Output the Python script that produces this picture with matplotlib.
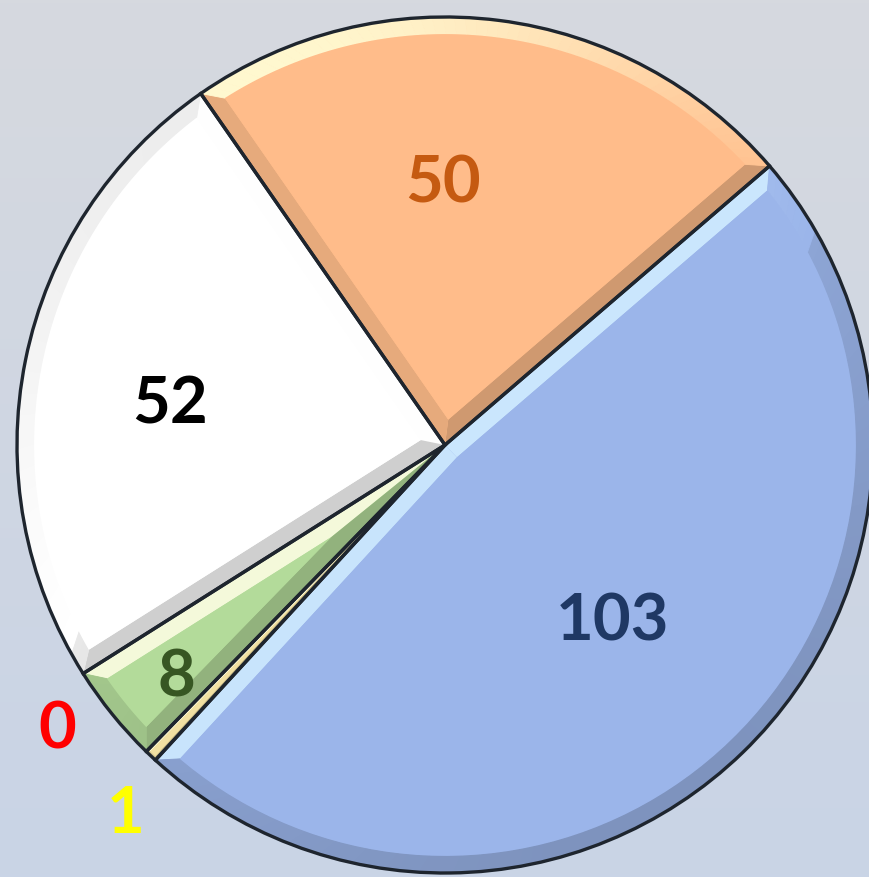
import numpy as np
import matplotlib
matplotlib.use('Agg')
import matplotlib.pyplot as plt
from matplotlib.patches import Polygon, Wedge
from matplotlib.colors import to_rgb

plt.rcParams['font.family'] = ['Lato', 'DejaVu Sans']

# slice data, clockwise from the top-left edge of the orange slice
values = [50, 103, 1, 0, 8, 52]
labels = ['50', '103', '1', '0', '8', '52']
face_colors = ['#FFBC8A', '#9BB5EA', '#F1E0A2', '#FF0000', '#B3DB9A', '#FFFFFF']
light_colors = ['#FFFDD5', '#CFEBFF', '#FFFFE0', '#FFFFFF', '#FAFCE0', '#EBEBEB']
label_colors = ['#C55A11', '#1F3864', '#FFFF00', '#FF0000', '#375623', '#000000']
# label placement (radius as fraction of pie radius, angle in degrees)
label_pos = [(0.61, 90.4), (0.57, -46.5), (1.14, 229.2), (1.125, 216.3), (0.83, 220.9), (0.65, 171.7)]

W, H = 869, 877
cx, cy, R = 445, 445, 428  # pixel centre / radius

fig = plt.figure(figsize=(W / 100, H / 100), dpi=100)
ax = fig.add_axes([0, 0, 1, 1])

wedges, _ = ax.pie(values, colors=face_colors, startangle=124.8, counterclock=False,
                   radius=1.0, wedgeprops=dict(linewidth=0, zorder=2))

x0, x1 = -cx / R, (W - cx) / R
y0, y1 = -(H - cy) / R, cy / R
ax.set_xlim(x0, x1)
ax.set_ylim(y0, y1)
ax.set_aspect('auto')
ax.axis('off')

# background gradient
grad = np.linspace(0, 1, 256)[:, None]
top, bot = np.array(to_rgb('#D6D9DF')), np.array(to_rgb('#C9D4E6'))
img = top[None, None, :] * (1 - grad[..., None]) + bot[None, None, :] * grad[..., None]
ax.imshow(img, extent=[x0, x1, y0, y1], aspect='auto', zorder=0, origin='upper')


def shade(base, light, normal_deg):
    b = np.array(to_rgb(base))
    s = np.cos(np.radians(normal_deg - 120))
    if s >= 0:
        k = 0.92 * s ** 1.3
        c = b * (1 - k) + np.array(to_rgb(light)) * k
    else:
        k = 0.09 + 0.1 * (-s)
        c = b * (1 - k)
    return tuple(np.clip(c, 0, 1))


def pol(r, a):
    return (r * np.cos(np.radians(a)), r * np.sin(np.radians(a)))


d = 0.04
for w, base, lc, v in zip(wedges, face_colors, light_colors, values):
    if v == 0:
        continue
    t1, t2 = w.theta1, w.theta2
    half = np.radians((t2 - t1) / 2)
    dd = min(d, 0.45 * np.sin(half))
    apex_r = dd / np.sin(half)
    apex = pol(apex_r, (t1 + t2) / 2)
    dphi = np.degrees(np.arcsin(dd / (1 - dd)))
    p1, p2 = t1 + dphi, t2 - dphi
    # side bevels
    ax.add_patch(Polygon([(0, 0), pol(1, t1), pol(1 - dd, p1), apex], closed=True,
                         facecolor=shade(base, lc, t1 - 90), edgecolor='none', zorder=3))
    ax.add_patch(Polygon([(0, 0), pol(1, t2), pol(1 - dd, p2), apex], closed=True,
                         facecolor=shade(base, lc, t2 + 90), edgecolor='none', zorder=3))
    # outer rim bevel
    n = max(2, int((t2 - t1) / 1.5))
    ts = np.linspace(0, 1, n + 1)
    for a, b in zip(ts[:-1], ts[1:]):
        oa, ob = t1 + a * (t2 - t1), t1 + b * (t2 - t1)
        ia, ib = p1 + a * (p2 - p1), p1 + b * (p2 - p1)
        col = shade(base, lc, (oa + ob) / 2)
        ax.add_patch(Polygon([pol(1, oa), pol(1, ob), pol(1 - dd, ib), pol(1 - dd, ia)],
                             closed=True, facecolor=col, edgecolor=col, linewidth=0.6, zorder=3))
    # face
    arc = [pol(1 - dd, a) for a in np.linspace(p1, p2, 80)]
    ax.add_patch(Polygon([apex] + arc, closed=True, facecolor=base, edgecolor='none', zorder=4))

# outlines
for w, v in zip(wedges, values):
    if v == 0:
        continue
    ax.add_patch(Wedge((0, 0), 1.0, w.theta1, w.theta2, facecolor='none',
                       edgecolor='#1E252E', linewidth=2.4, zorder=5))

for lab, col, (r, a) in zip(labels, label_colors, label_pos):
    x, y = pol(r, a)
    ax.text(x, y, lab, color=col, fontsize=47, fontweight='bold',
            ha='center', va='center', zorder=6)

fig.savefig('out.png', dpi=100)
